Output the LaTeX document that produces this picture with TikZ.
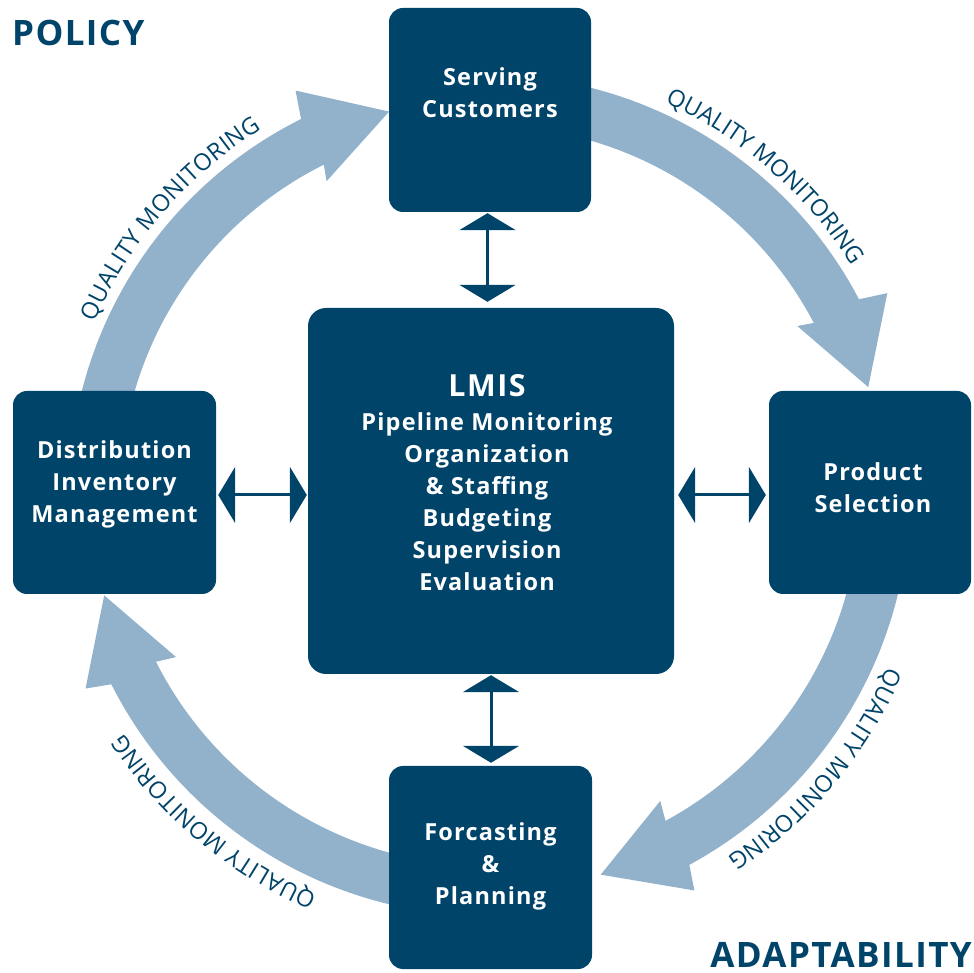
\documentclass[tikz,border=0pt]{standalone}
\usepackage{fontspec}
\setmainfont{Open Sans}
\newfontfamily\boxfont[LetterSpace=5]{Open Sans}
\newfontfamily\cornerfont[LetterSpace=4]{Open Sans}
\usetikzlibrary{arrows.meta,calc,decorations.text}
\definecolor{dark}{HTML}{01446A}
\definecolor{light}{HTML}{92B1CB}
% #1 start angle, #2 shaft end angle, #3 inner r, #4 outer r, #5 tip r
\newcommand\qmArrow[5]{%
  \fill[light] ($(C)+(#1:#4)$) arc[start angle=#1, end angle=#2, radius=#4]
    -- ($(C)+({#2-1}:447)$) -- ($(C)+({#2-12}:#5)$) -- ($(C)+({#2+0.8}:352)$)
    -- ($(C)+(#2:#3)$) arc[start angle=#2, end angle=#1, radius=#3] -- cycle;}
\begin{document}
\begin{tikzpicture}[x=1pt,y=1pt,
  box/.style={fill=dark, rounded corners=14pt, inner sep=0pt},
  boxtext/.style={text=white, align=center, inner sep=0pt, anchor=north,
    font=\boxfont\bfseries\fontsize{23.5}{32}\selectfont},
  dbl/.style={draw=dark, line width=3pt,
    {Triangle[length=17pt,width=56pt]}-{Triangle[length=17pt,width=56pt]}},
  corner/.style={text=dark, inner sep=0pt, font=\cornerfont\bfseries\fontsize{35}{40}\selectfont},
  qm/.style={decorate, decoration={text along path, text align=fit to path,
    text={|\fontsize{23.5}{26}\selectfont\color{dark}|QUALITY MONITORING}}}
]
\useasboundingbox (0,0) rectangle (974,972);
\coordinate (C) at (488,478);

% ring arrows
\qmArrow{175}{116.5}{368}{419}{395}
\qmArrow{85}{27.7}{368}{419}{395}
\qmArrow{-5}{-61.5}{372}{422}{397}
\qmArrow{-95}{-153.2}{372}{422}{397}

% ring labels
\path[qm] ($(C)+(156.4:429.5)$) arc[start angle=156.4, end angle=121.8, radius=429.5];
\path[qm] ($(C)+(65.7:429.5)$) arc[start angle=65.7, end angle=32.4, radius=429.5];
\path[qm] ($(C)+(-23.4:435.5)$) arc[start angle=-23.4, end angle=-56.6, radius=435.5];
\path[qm] ($(C)+(-113.1:435.5)$) arc[start angle=-113.1, end angle=-146.7, radius=435.5];

% boxes
\node[box, minimum width=202pt, minimum height=204pt] (sc) at (490,862) {};
\node[box, minimum width=202pt, minimum height=203pt] (ps) at (870,479.5) {};
\node[box, minimum width=203pt, minimum height=203pt] (di) at (114.5,479.5) {};
\node[box, minimum width=203pt, minimum height=203pt] (fp) at (490.5,104.5) {};
\node[box, rounded corners=18pt, minimum width=366pt, minimum height=366pt] (lm) at (491,481) {};

% box texts
\node[boxtext] (sct) at (490,906.3) {\rule{0pt}{20pt}Serving\\Customers};
\node[boxtext] (pst) at (873,512) {\rule{0pt}{20pt}Product\\Selection};
\node[boxtext] (dit) at (114.5,534) {\rule{0pt}{20pt}Distribution\\Inventory\\Management};
\node[boxtext] (fpt) at (490.5,152) {\rule{0pt}{20pt}Forcasting\\\&\\Planning};
\node[text=white, anchor=base, inner sep=0pt,
  font=\boxfont\bfseries\fontsize{30.4}{36}\selectfont] (lmt) at (487,575) {LMIS};
\node[boxtext] (lmi) at (487,562) {\rule{0pt}{20pt}Pipeline Monitoring\\Organization\\\& Staffing\\Budgeting\\Supervision\\Evaluation};

% corner titles
\node[corner, anchor=base west] (pol) at (12,926) {POLICY};
\node[corner, anchor=base east] (ada) at (972,5) {ADAPTABILITY};

% double arrows
\coordinate (vxa) at (487.5,0);
\coordinate (vxb) at (491,0);
\coordinate (hy) at (0,477);
\draw[dbl, shorten <=1pt, shorten >=6pt] (sc.south -| vxa) -- (lm.north -| vxa);
\draw[dbl, shorten <=2pt, shorten >=1pt] (di.east |- hy) -- (lm.west |- hy);
\draw[dbl, shorten <=4pt, shorten >=3pt] (lm.east |- hy) -- (ps.west |- hy);
\draw[dbl, shorten <=1pt, shorten >=3pt] (lm.south -| vxb) -- (fp.north -| vxb);
\end{tikzpicture}
\end{document}
